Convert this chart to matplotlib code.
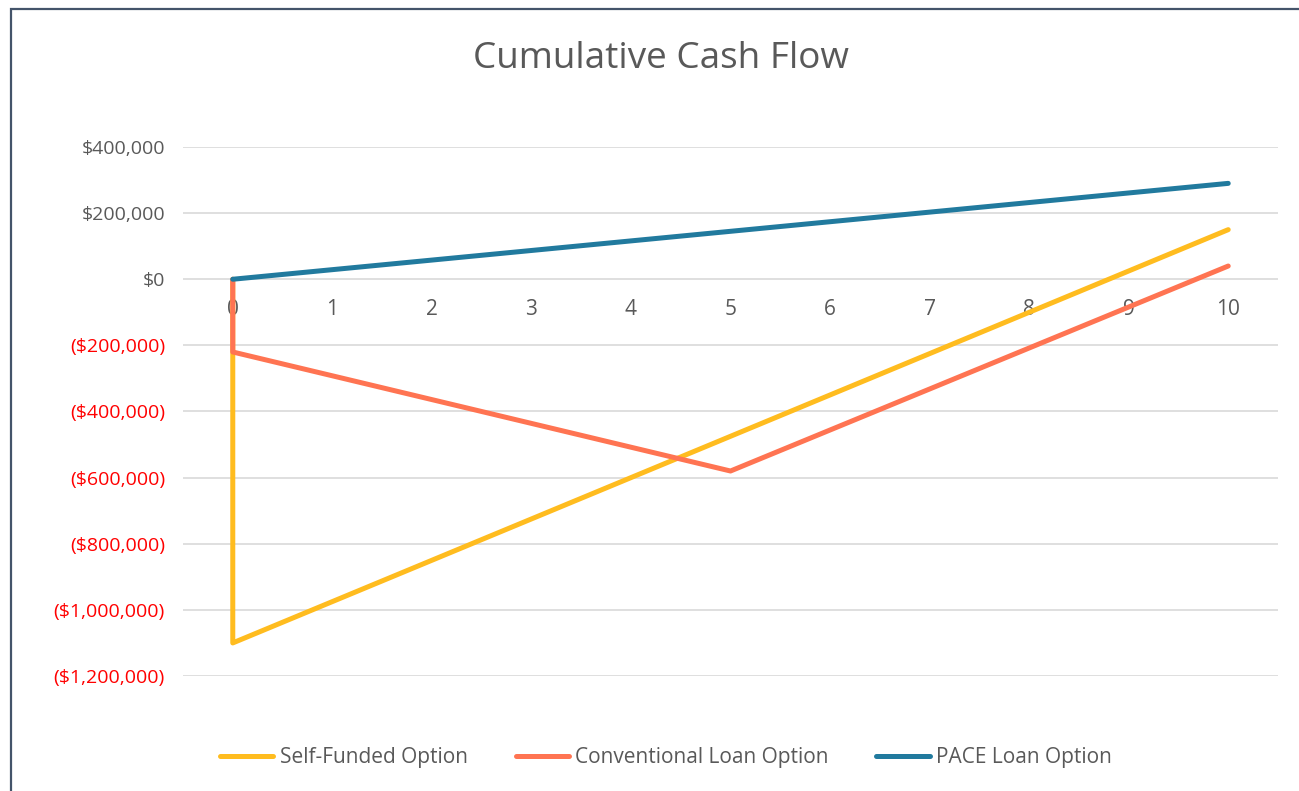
import matplotlib.pyplot as plt
from matplotlib.patches import Rectangle
from matplotlib.ticker import FuncFormatter

# data (x = 0 appears twice: start point and the initial outlay at year 0)
years = [0, 0, 1, 2, 3, 4, 5, 6, 7, 8, 9, 10]
self_funded = [0, -1100000, -975000, -850000, -725000, -600000, -475000,
               -350000, -225000, -100000, 25000, 150000]
conventional = [0, -220000, -292000, -364000, -436000, -508000, -580000,
                -456000, -332000, -208000, -84000, 40000]
pace_years = [0, 1, 2, 3, 4, 5, 6, 7, 8, 9, 10]
pace = [0, 29000, 58000, 87000, 116000, 145000, 174000, 203000, 232000,
        261000, 290000]
x_labels = ["0", "1", "2", "3", "4", "5", "6", "7", "8", "9", "10"]

plt.rcParams["font.family"] = ["Open Sans", "DejaVu Sans"]
TXT = "#595959"

fig = plt.figure(figsize=(12.99, 7.91), dpi=100)
ax = fig.add_axes([183 / 1299, 1 - 676 / 791, 1095 / 1299, 529 / 791])

# chart border (Excel chart area outline)
fig.patches.append(Rectangle((11 / 1299, -0.01), 1.02, 1 - 8.5 / 791 + 0.01,
                             transform=fig.transFigure, fill=False,
                             edgecolor="#44546A", lw=1.6))

ax.set_xlim(-0.5, 10.5)
ax.set_ylim(-1200000, 400000)
ax.set_yticks(range(-1200000, 400001, 200000))
ax.set_xticks([])
ax.grid(axis="y", color="#d9d9d9", lw=1.2)
ax.set_axisbelow(True)
for s in ax.spines.values():
    s.set_visible(False)

def money(v, pos):
    if v < 0:
        return "(${:,.0f})".format(-v)
    return "${:,.0f}".format(v)

ax.yaxis.set_major_formatter(FuncFormatter(money))
ax.tick_params(axis="y", length=0, pad=13, labelsize=14)
for lab, v in zip(ax.get_yticklabels(), ax.get_yticks()):
    lab.set_color("#FF0000" if v < 0 else TXT)

# category labels sit just below the zero line
for xv, lab in zip(pace_years, x_labels):
    ax.annotate(lab, (xv, 0), xytext=(0, -22), textcoords="offset points",
                ha="center", va="center", fontsize=15, color=TXT, zorder=1)

lw = 3.6
ax.plot(years, self_funded, color="#FFBC1F", lw=lw, solid_capstyle="round",
        label="Self-Funded Option", zorder=3)
ax.plot(years, conventional, color="#FF7452", lw=lw, solid_capstyle="round",
        label="Conventional Loan Option", zorder=3)
ax.plot(pace_years, pace, color="#217A9E", lw=lw, solid_capstyle="round",
        label="PACE Loan Option", zorder=3)

fig.text(661 / 1299, 1 - 59 / 791, "Cumulative Cash Flow", ha="center",
         va="center", fontsize=26.6, color=TXT)

fig.legend(loc="center", bbox_to_anchor=(666 / 1299, 1 - 758 / 791), ncol=3,
           frameon=False, fontsize=15, handlelength=2.55, handletextpad=0.3,
           columnspacing=2.3, labelcolor=TXT)

plt.savefig("out.png", dpi=100)
